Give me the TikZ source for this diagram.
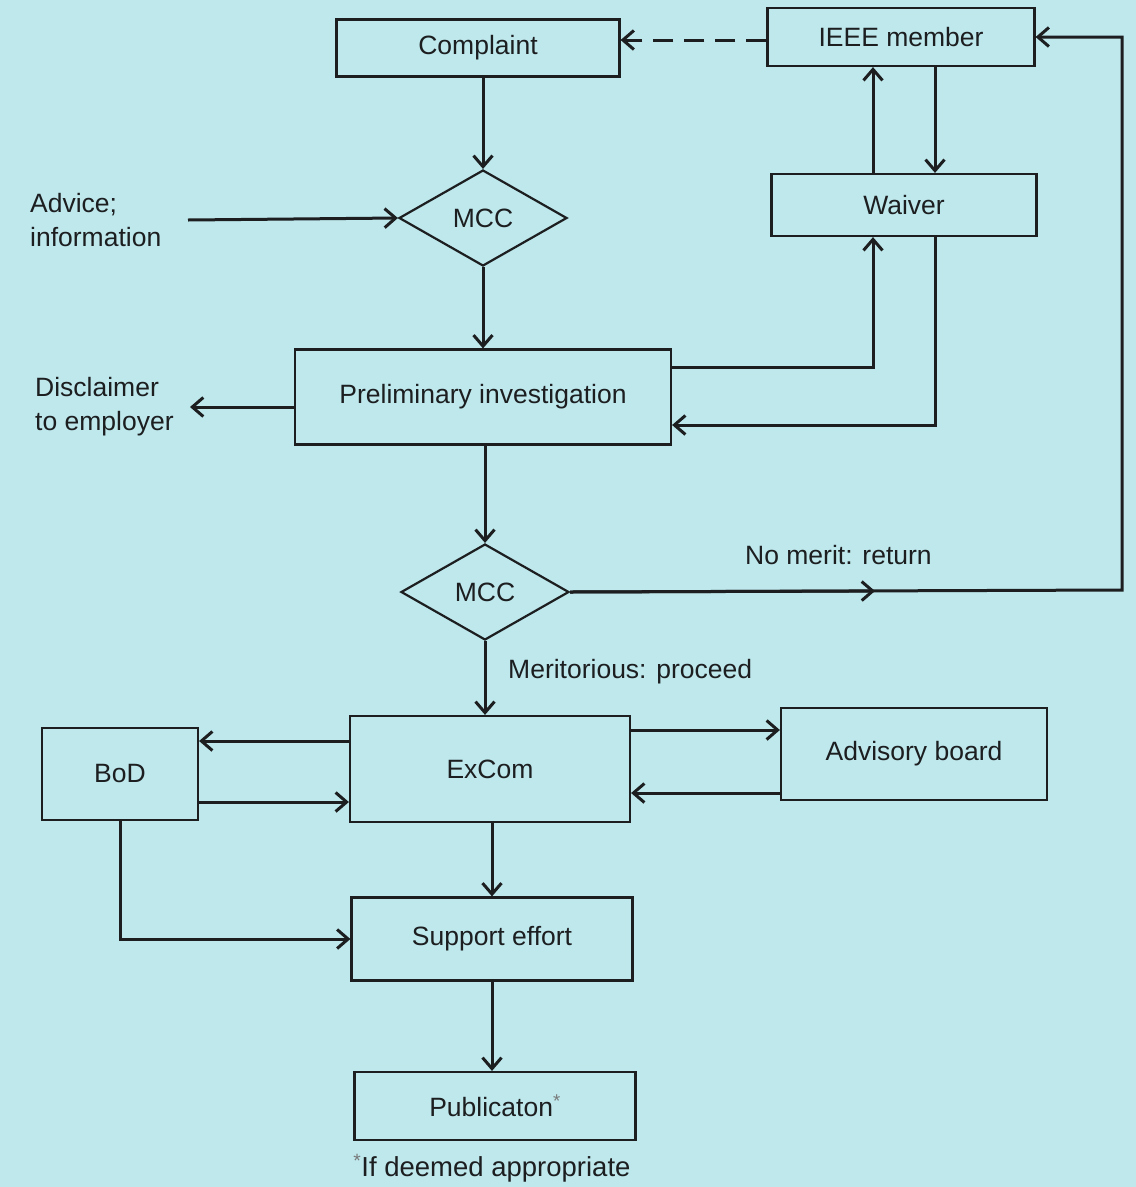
\documentclass[tikz,border=0pt]{standalone}
\usepackage{fontspec}
\setmainfont{Liberation Sans}
\usetikzlibrary{arrows.meta,shapes.geometric,calc}
\definecolor{bgcyan}{RGB}{190,232,236}
\definecolor{ink}{RGB}{28,30,32}
\begin{document}
\begin{tikzpicture}[x=1pt,y=-1pt,
  box/.style={draw=ink,line width=2.2pt,minimum width=#1,inner sep=0pt,font=\fontsize{26.5}{34}\selectfont,text=ink},
  dia/.style={draw=ink,line width=2.2pt,diamond,aspect=1.75,minimum width=168pt,minimum height=96pt,inner sep=0pt,font=\fontsize{26.5}{34}\selectfont,text=ink},
  lbl/.style={font=\fontsize{26.5}{34}\selectfont,text=ink,inner sep=0pt},
  arr/.style={draw=ink,line width=3pt,-{Straight Barb[length=11pt,width=19pt,line width=3pt]}}]
\fill[bgcyan] (0,0) rectangle (1136,1187);
\useasboundingbox (0,0) rectangle (1136,1187);

% nodes
\node[box=283pt,minimum height=57pt] (complaint) at (478,48) {Complaint};
\node[box=267pt,minimum height=58pt] (ieee) at (901,37) {IEEE member};
\node[dia] (mcc1) at (483,218) {MCC};
\node[box=265pt,minimum height=62pt] (waiver) at (904,205) {Waiver};
\node[box=376pt,minimum height=95pt] (prelim) at (483,397) {Preliminary investigation};
\node[dia] (mcc2) at (485,592) {MCC};
\node[box=280pt,minimum height=106pt] (excom) at (490,769) {ExCom};
\node[box=156pt,minimum height=92pt] (bod) at (120,774) {BoD};
\node[box=266pt,minimum height=92pt] (advisory) at (914,754) {Advisory board};
\node[box=281pt,minimum height=83pt] (support) at (492,939) {Support effort};
\node[box=281pt,minimum height=68pt] (pub) at (495,1106) {Publicaton\textsuperscript{\color{ink!60}*}};

\node[lbl,align=left,anchor=west] (advice) at (30,220) {Advice;\\information};
\node[lbl,align=left,anchor=west] (disc) at (35,407) {Disclaimer\\to employer};
\node[lbl,anchor=west] (nomerit) at (745,555) {No merit: return};
\node[lbl,anchor=west] (merit) at (508,672) {Meritorious: proceed};
\node[lbl,font=\fontsize{27.5}{32}\selectfont] (foot) at (492,1168) {\textsuperscript{\color{ink!60}*}If deemed appropriate};

\coordinate (advstart) at (188,220);
\coordinate (discend) at (190,407);
\coordinate (ret) at (1122,590);
\coordinate (retmid) at (875,591);

% connectors
\draw[arr,dash pattern=on 20pt off 11pt] (ieee.west |- 0,40) -- (complaint.east |- 0,40);
\draw[arr] (complaint.south -| mcc1.north) -- (mcc1.north);
\draw[arr] (advstart) -- (mcc1.west);
\draw[arr] (waiver.north -| 873,0) -- (ieee.south -| 873,0);
\draw[arr] (ieee.south -| 935,0) -- (waiver.north -| 935,0);
\draw[arr] (mcc1.south) -- (prelim.north -| mcc1.south);
\draw[arr] (prelim.east |- 0,367) -| (waiver.south -| 873,0);
\draw[arr] (waiver.south -| 935,0) |- (prelim.east |- 0,425);
\draw[arr] (prelim.west |- 0,407) -- (discend);
\draw[arr] (prelim.south -| mcc2.north) -- (mcc2.north);
\draw[arr] (mcc2.east) -- (retmid);
\draw[arr] (mcc2.east) -- (ret) |- (ieee.east);
\draw[arr] (mcc2.south) -- (excom.north -| mcc2.south);
\draw[arr] (excom.west |- 0,741) -- (bod.east |- 0,741);
\draw[arr] (bod.east |- 0,802) -- (excom.west |- 0,802);
\draw[arr] (excom.east |- 0,730) -- (advisory.west |- 0,730);
\draw[arr] (advisory.west |- 0,793) -- (excom.east |- 0,793);
\draw[arr] (excom.south -| support.north) -- (support.north);
\draw[arr] (bod.south) |- (support.west);
\draw[arr] (support.south) -- (pub.north -| support.south);
\end{tikzpicture}
\end{document}
